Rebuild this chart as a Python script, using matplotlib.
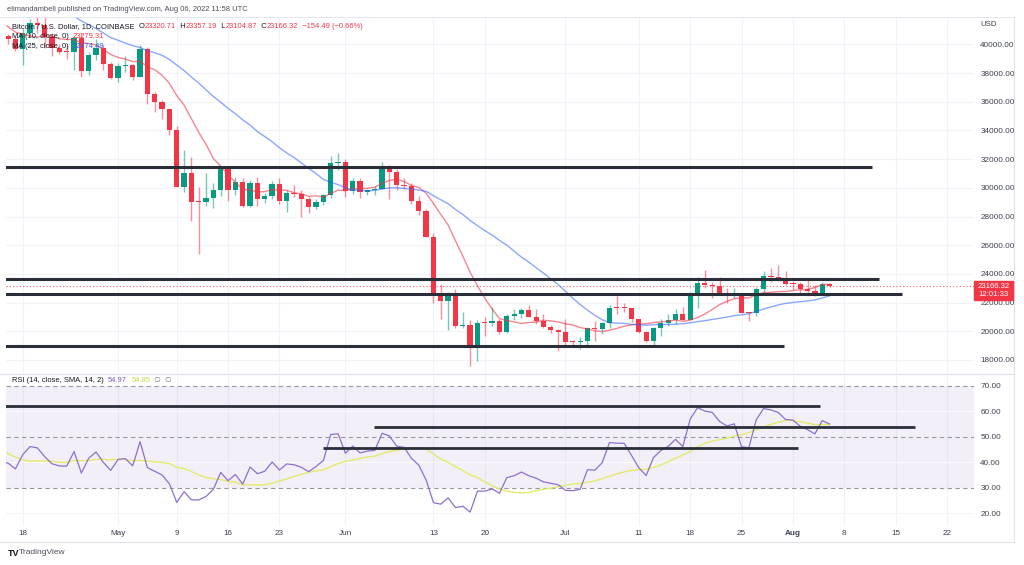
import numpy as np
import pandas as pd
import matplotlib
matplotlib.use("Agg")
import matplotlib.pyplot as plt
from matplotlib import font_manager as fm
from matplotlib.patches import Rectangle

# ---------------- data ----------------
first_day = "2022-04-16"
last_day = "2022-08-06"
ref_day = "2022-04-18"

opens = [40555, 40390, 39680, 40800, 41500, 41370, 40480, 39710, 39470, 39450, 40430, 38120, 39240, 39740, 38600,
         37640, 38470, 38530, 37750, 39690, 36550, 36010, 35470, 34060, 30080, 31020, 29030, 28990, 29280, 29860,
         31300, 29870, 30420, 28720, 30310, 29200, 29430, 30290, 29100, 29650, 29540, 29200, 28630, 29030, 29470, 31730,
         31800, 29800, 30450, 29700, 29860, 29910, 31370, 31130, 30210, 30110, 29080, 28370, 26580, 22490, 22130,
         22580, 20380, 20470, 19010, 20570, 20560, 20720, 19970, 21090, 21230, 21490, 21030, 20730, 20280, 20100,
         19940, 19270, 19240, 19300, 20230, 20190, 20550, 21640, 21600, 21590, 20850, 19960, 19330, 20220, 20590,
         20820, 21200, 20780, 22480, 23400, 23220, 23150, 22690, 22450, 22580, 21300, 21250, 22950, 23850, 23780, 23650,
         23300, 23270, 22980, 22820, 22620, 23320.71]
highs = [40710, 40590, 41100, 41750, 42200, 42980, 40790, 39990, 39920, 40610, 40790, 39460, 40370, 39920, 38800,
         38690, 39170, 38640, 39960, 39840, 36650, 36140, 35510, 34300, 32650, 32170, 30030, 31000, 30320, 31420,
         31330, 30760, 30700, 30550, 30760, 29620, 30480, 30650, 29820, 30200, 29850, 29380, 29250, 29560, 32200, 32400,
         31990, 30650, 30680, 29950, 30160, 31770, 31560, 31330, 30680, 30350, 29430, 28550, 26880, 23330, 22770,
         22980, 21350, 20770, 20800, 21000, 21720, 20860, 21200, 21550, 21620, 21860, 21520, 21190, 20410, 20170,
         20870, 19410, 19620, 20280, 20720, 20660, 21810, 22460, 21950, 21610, 20850, 20050, 20300, 20880, 21180,
         21580, 21680, 22720, 23800, 24280, 23440, 23750, 22990, 23000, 22660, 21310, 23100, 24200, 24440, 24650,
         24200, 23480, 23450, 23640, 23220, 23450, 23357.19]
lows = [40020, 39540, 38540, 40570, 40820, 39760, 39180, 39300, 39000, 38200, 37700, 37890, 38880, 38200, 37580,
        37390, 38050, 37520, 37700, 35830, 35260, 34770, 33700, 30050, 29730, 27700, 25400, 28700, 28620, 29450,
        29090, 29470, 28680, 28680, 28750, 28950, 29240, 28890, 28300, 29380, 28000, 28250, 28550, 28800, 29300, 31210,
        29360, 29580, 29280, 29490, 29500, 29890, 29230, 29850, 29950, 28860, 28100, 26550, 21950, 20830, 20080,
        20220, 20250, 17600, 17950, 19640, 20350, 19790, 19900, 20760, 20920, 20990, 20500, 20200, 19850, 18630,
        19000, 18970, 18760, 19050, 19300, 19780, 20240, 21200, 21330, 20660, 19880, 19240, 18920, 19640, 20390,
        20490, 20770, 20760, 21600, 23000, 22350, 22580, 21950, 22290, 21250, 20700, 21040, 22600, 23420, 23530,
        23230, 22850, 22660, 22700, 22440, 22590, 23104.87]
closes = [40390, 39680, 40800, 41500, 41370, 40480, 39710, 39470, 39450, 40430, 38120, 39240, 39740, 38600, 37640,
          38470, 38530, 37750, 39690, 36550, 36010, 35470, 34060, 30080, 31020, 29030, 28990, 29280, 29860, 31300,
          29870, 30420, 28720, 30310, 29200, 29430, 30290, 29100, 29650, 29540, 29200, 28630, 29030, 29470, 31730, 31800,
          29800, 30450, 29700, 29860, 29910, 31370, 31130, 30210, 30110, 29080, 28370, 26580, 22490, 22130, 22580,
          20380, 20470, 19010, 20570, 20560, 20720, 19970, 21090, 21230, 21490, 21030, 20730, 20280, 20100, 19940,
          19270, 19240, 19300, 20230, 20190, 20550, 21640, 21600, 21590, 20850, 19960, 19330, 20220, 20590, 20820,
          21200, 20780, 22480, 23400, 23220, 23150, 22690, 22450, 22580, 21300, 21250, 22950, 23850, 23780, 23650,
          23300, 23270, 22980, 22820, 22620, 23310, 23166.32]

# closes before the visible window (only used to warm up MA / RSI)
prior_start = "2022-03-01"
prior_closes = [44420, 43920, 42450, 39140, 39400, 38420, 37990, 38730, 41940, 39420, 38730, 38810, 37780, 39670,
                39280, 41140, 40950, 41800, 42190, 41250, 41030, 42370, 42900, 43960, 44350, 44500, 46820, 47130,
                47450, 47060, 45540, 46280, 45810, 46410, 46580, 45500, 43170, 43440, 42270, 42760, 42160, 39530,
                40070, 41150, 39940, 40550]

# user-drawn horizontal levels: (price, end date)
price_levels = [31450, 23630, 22590, 18950]
price_level_ends = ["2022-08-11 20:00", "2022-08-12 18:00", "2022-08-15 22:00", "2022-07-30 19:00"]
rsi_levels = [62.0, 53.8, 45.6]
rsi_level_starts = [None, "2022-06-04 22:00", "2022-05-28 22:00"]
rsi_level_ends = ["2022-08-04 17:00", "2022-08-17 17:00", "2022-08-01 17:00"]

price_ticks = [18000, 20000, 22000, 24000, 26000, 28000, 30000, 32000, 34000, 36000, 38000, 40000]
rsi_ticks = [20, 30, 40, 50, 60, 70]
time_tick_dates = ["2022-04-18", "2022-05-01", "2022-05-09", "2022-05-16", "2022-05-23", "2022-06-01",
                   "2022-06-13", "2022-06-20", "2022-07-01", "2022-07-11", "2022-07-18", "2022-07-25",
                   "2022-08-01", "2022-08-08", "2022-08-15", "2022-08-22"]
time_tick_labels = ["18", "May", "9", "16", "23", "Jun", "13", "20", "Jul", "11", "18", "25", "Aug", "8", "15", "22"]

last_price = "23166.32"
countdown = "12:01:33"
change_text = "\u2212154.49 (\u22120.66%)"
ma10_value = "23279.31"
ma25_value = "22474.49"
rsi_value = "54.97"
rsi_ma_value = "54.85"

# ---------------- helpers ----------------
ref = pd.Timestamp(ref_day)


def dnum(s):
    return (pd.Timestamp(s) - ref) / pd.Timedelta(days=1)


dates = pd.date_range(first_day, last_day, freq="D")
x = np.array([(d - ref).days for d in dates], dtype=float)
o = np.array(opens, float); h = np.array(highs, float); l = np.array(lows, float); c = np.array(closes, float)

all_close = np.array(prior_closes + closes, float)
all_dates = pd.date_range(prior_start, last_day, freq="D")
x_all = np.array([(d - ref).days for d in all_dates], dtype=float)

ma10 = pd.Series(all_close).rolling(10).mean().values
ma25 = pd.Series(all_close).rolling(25).mean().values

n = 14
delta = np.diff(all_close)
gain = np.clip(delta, 0, None)
loss = np.clip(-delta, 0, None)
ag = np.full(len(delta), np.nan); al = np.full(len(delta), np.nan)
ag[n - 1] = gain[:n].mean(); al[n - 1] = loss[:n].mean()
for i in range(n, len(delta)):
    ag[i] = (ag[i - 1] * (n - 1) + gain[i]) / n
    al[i] = (al[i - 1] * (n - 1) + loss[i]) / n
rsi = np.concatenate([[np.nan], 100 - 100 / (1 + ag / al)])
rsi_ma = pd.Series(rsi).rolling(14).mean().values

# ---------------- fonts ----------------
names = {f.name for f in fm.fontManager.ttflist}
narrow = "Liberation Sans Narrow" if "Liberation Sans Narrow" in names else "Liberation Sans"
ui = "Liberation Sans"
AX_FS = 7.0 if narrow == "Liberation Sans Narrow" else 5.9

UP = "#089981"; DOWN = "#f23645"; TXT = "#131722"; AXT = "#3d4150"; GRID = "#f0f3fa"

W, H = 1024, 565
fig = plt.figure(figsize=(W / 100, H / 100), dpi=100)
fig.patch.set_facecolor("white")


def rect(left, top, right, bottom):
    return [left / W, 1 - bottom / H, (right - left) / W, (bottom - top) / H]


# pixel mapping measured on the reference
x_left, x_right = 6, 974
px_per_day = 7.335
x0_px = 22.7
xmin = (x_left - x0_px) / px_per_day
xmax = (x_right - x0_px) / px_per_day

ax = fig.add_axes(rect(x_left, 17, x_right, 373))
axr = fig.add_axes(rect(x_left, 375, x_right, 526))

py40, ppx = 44.3, 0.01435
ax.set_xlim(xmin, xmax)
ax.set_ylim(40000 - (373 - py40) / ppx, 40000 + (py40 - 17) / ppx)
r70, rpx = 385.7, 2.55
axr.set_xlim(xmin, xmax)
axr.set_ylim(30 - (526 - 487.7) / rpx, 70 + (r70 - 375) / rpx)

tick_x = [dnum(s) for s in time_tick_dates]
for a in (ax, axr):
    for s in a.spines.values():
        s.set_visible(False)
    a.set_xticks(tick_x)
    a.yaxis.tick_right()
    a.tick_params(axis="both", length=0, labelsize=AX_FS, labelcolor=AXT, pad=4.5)
    for t in tick_x:
        a.axvline(t, color=GRID, lw=0.8, zorder=0)

ax.set_xticklabels([])
ax.set_yticks(price_ticks)
ax.set_yticklabels([f"{v:.2f}" for v in price_ticks], family=narrow)
for v in price_ticks:
    ax.axhline(v, color=GRID, lw=0.8, zorder=0)

axr.set_yticks(rsi_ticks)
axr.set_yticklabels([f"{v:.2f}" for v in rsi_ticks], family=narrow)
axr.set_xticklabels(time_tick_labels, family=narrow)
for lab in axr.get_xticklabels():
    if lab.get_text() == "Aug":
        lab.set_fontweight("bold")
axr.tick_params(axis="x", pad=3)

# ---------------- candles ----------------
up = c >= o
cols = np.where(up, UP, DOWN)
ax.vlines(x, l, h, colors=cols, lw=1.0, alpha=0.55, zorder=2)
body_lo = np.minimum(o, c)
body_h = np.maximum(np.abs(c - o), 70)
ax.bar(x, body_h, bottom=body_lo, width=0.72, color=cols, lw=0, zorder=3)

ax.plot(x_all, ma10, color=DOWN, alpha=0.6, lw=1.0, zorder=4)
ax.plot(x_all, ma25, color="#2962ff", alpha=0.55, lw=1.0, zorder=4)

ax.axhline(float(last_price), color=DOWN, lw=0.8, ls=(0, (1, 2)), alpha=0.8, zorder=2)

for p, e in zip(price_levels, price_level_ends):
    ax.hlines(p, xmin - 5, dnum(e), color="#2a2e39", lw=2.2, zorder=5)

# ---------------- RSI ----------------
axr.axhspan(30, 70, color="#7e57c2", alpha=0.09, lw=0, zorder=0)
for v in (60, 40, 20):
    axr.axhline(v, color="white" if v != 20 else GRID, lw=0.8, alpha=0.7, zorder=0.5)
for v in (70, 50, 30):
    axr.axhline(v, color="#9598a1", lw=0.8, ls=(0, (4, 3)), zorder=1)
axr.plot(x_all, rsi, color="#8e6fd0", lw=0.9, zorder=3)
axr.plot(x_all, rsi_ma, color="#e3ea6a", lw=1.0, zorder=2.5)
for v, s, e in zip(rsi_levels, rsi_level_starts, rsi_level_ends):
    axr.hlines(v, xmin - 5 if s is None else dnum(s), dnum(e), color="#2a2e39", lw=2.0, zorder=5)

# ---------------- overlay (text, frame) ----------------
ov = fig.add_axes([0, 0, 1, 1])
ov.set_xlim(0, W); ov.set_ylim(H, 0); ov.axis("off")
ov.patch.set_alpha(0)

FR = "#e0e3eb"
ov.plot([1014, 1014], [17, 542], color=FR, lw=0.8)
ov.plot([0, 1014], [374, 374], color=FR, lw=1.0)
ov.plot([0, 1014], [542, 542], color=FR, lw=0.8)
ov.plot([0, 1014], [17, 17], color=FR, lw=0.6)


def chain(xp, yp, pieces, size, fam=(ui, "DejaVu Sans")):
    fam = list(fam)
    prev = ov.text(xp, yp, pieces[0][0], color=pieces[0][1], fontsize=size, family=fam, va="bottom", ha="left", zorder=10)
    for s, col in pieces[1:]:
        prev = ov.annotate(s, xy=(1, 0), xycoords=prev, va="bottom", ha="left", color=col, fontsize=size,
                           family=fam, zorder=10)
    return prev


ov.text(7, 13, "elimandambell published on TradingView.com, Aug 06, 2022 11:58 UTC", fontsize=5.4,
        family=ui, color="#4a4e59", va="bottom", ha="left")

chain(12, 30, [("Bitcoin / U.S. Dollar, 1D, COINBASE  ", TXT), ("O", TXT), (f"{opens[-1]:.2f}", DOWN),
               ("  H", TXT), (f"{highs[-1]:.2f}", DOWN), ("  L", TXT), (f"{lows[-1]:.2f}", DOWN),
               ("  C", TXT), (f"{closes[-1]:.2f}", DOWN), ("  " + change_text, DOWN)], 5.4)
chain(12, 40, [("MA (10, close, 0)  ", TXT), (ma10_value, DOWN)], 5.4)
chain(12, 49.5, [("MA (25, close, 0)  ", TXT), (ma25_value, "#2962ff")], 5.4)
chain(12, 384, [("RSI (14, close, SMA, 14, 2)  ", TXT), (rsi_value, "#7e57c2"), ("  ", TXT),
                (rsi_ma_value, "#c9d93a"), ("  \u2205  \u2205", "#787b86")], 5.4)

ov.text(980, 25, "USD", fontsize=5.6, family=narrow, color=AXT, va="center", ha="left")

ov.add_patch(Rectangle((974, 281), 39, 19, color=DOWN, zorder=11))
ov.text(993.5, 286.5, last_price, color="white", fontsize=5.6, family=narrow, ha="center", va="center", zorder=12)
ov.text(993.5, 295, countdown, color="white", fontsize=5.6, family=narrow, ha="center", va="center", zorder=12)

ov.text(8, 553, "TV", fontsize=6.5, family=ui, weight="bold", color=TXT, va="center", ha="left")
ov.text(19, 553, "TradingView", fontsize=6, family=ui, color="#4a4e59", va="center", ha="left")

fig.savefig("out.png", dpi=100, facecolor="white")
